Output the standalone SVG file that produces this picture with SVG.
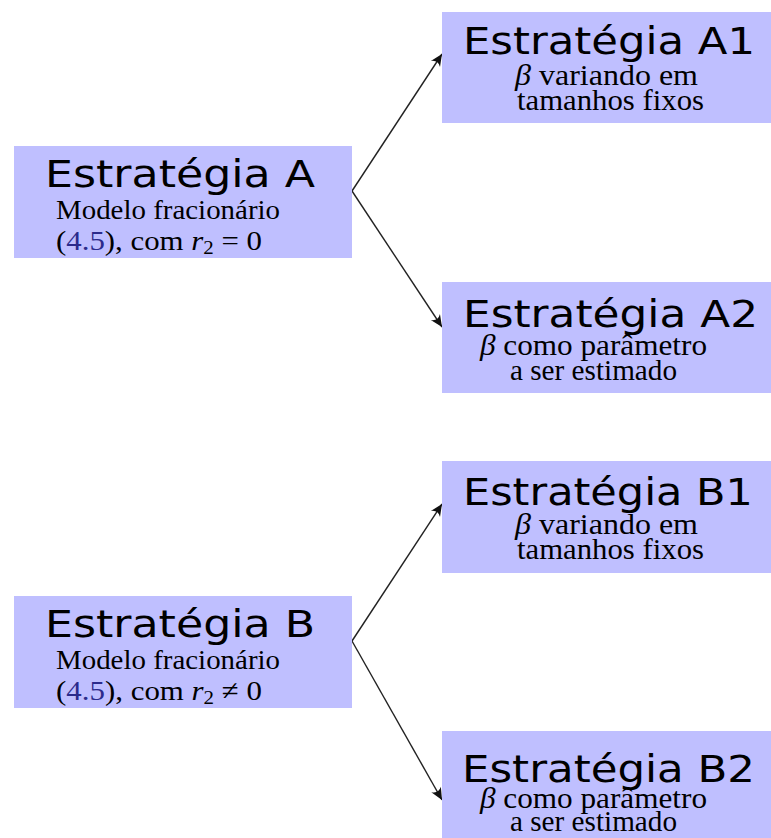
<svg xmlns="http://www.w3.org/2000/svg" width="771" height="838" viewBox="0 0 771 838">
<defs>
<style>
.box{fill:#bfbfff;stroke:none}
.t{font-family:"DejaVu Sans",sans-serif;font-size:37px;fill:#000}
.s{font-family:"Liberation Serif","Times New Roman",serif;font-size:28px;fill:#000}
.r{font-size:29px}
.m{font-style:italic}
.lk{fill:#2b2b8c}
.sub{font-size:19px}
.c{fill:none;stroke:#222;stroke-width:1.4}
</style>
<marker id="ah" markerWidth="16" markerHeight="12" viewBox="-13 -6 15 12" refX="0" refY="0" orient="auto" markerUnits="userSpaceOnUse">
<path d="M0,0 L-12,-5.5 Q-7,0 -12,5.5 Z" fill="#111"/>
</marker>
</defs>
<rect width="771" height="838" fill="#fff"/>
<g id="connectors">
<line class="c" x1="352" y1="191" x2="442" y2="54" marker-end="url(#ah)"/>
<line class="c" x1="352" y1="191" x2="442" y2="327" marker-end="url(#ah)"/>
<line class="c" x1="352" y1="641" x2="442" y2="504" marker-end="url(#ah)"/>
<line class="c" x1="352" y1="641" x2="442" y2="800" marker-end="url(#ah)"/>
</g>
<g id="nodeA">
<rect class="box" x="14" y="146" width="338" height="112"/>
<text class="t" x="45" y="186.5" textLength="270" lengthAdjust="spacingAndGlyphs">Estratégia A</text>
<text class="s" x="56" y="219" textLength="224" lengthAdjust="spacingAndGlyphs">Modelo fracionário</text>
<text class="s" x="56" y="250" textLength="206" lengthAdjust="spacingAndGlyphs">(<tspan class="lk">4.5</tspan>), com <tspan class="m">r</tspan><tspan class="sub" dy="4">2</tspan><tspan dy="-4"> = 0</tspan></text>
</g>
<g id="nodeA1">
<rect class="box" x="442" y="12" width="329" height="111"/>
<text class="t" x="463" y="54" textLength="292" lengthAdjust="spacingAndGlyphs">Estratégia A1</text>
<text class="s r" x="515" y="85" textLength="183" lengthAdjust="spacingAndGlyphs"><tspan class="m">β</tspan> variando em</text>
<text class="s r" x="517" y="110" textLength="187" lengthAdjust="spacingAndGlyphs">tamanhos fixos</text>
</g>
<g id="nodeA2">
<rect class="box" x="442" y="282" width="329" height="111"/>
<text class="t" x="463" y="327" textLength="295" lengthAdjust="spacingAndGlyphs">Estratégia A2</text>
<text class="s r" x="480" y="355" textLength="227" lengthAdjust="spacingAndGlyphs"><tspan class="m">β</tspan> como parâmetro</text>
<text class="s r" x="510" y="380" textLength="167" lengthAdjust="spacingAndGlyphs">a ser estimado</text>
</g>
<g id="nodeB">
<rect class="box" x="14" y="596" width="338" height="112"/>
<text class="t" x="45" y="636.5" textLength="270" lengthAdjust="spacingAndGlyphs">Estratégia B</text>
<text class="s" x="56" y="669" textLength="224" lengthAdjust="spacingAndGlyphs">Modelo fracionário</text>
<text class="s" x="56" y="700" textLength="206" lengthAdjust="spacingAndGlyphs">(<tspan class="lk">4.5</tspan>), com <tspan class="m">r</tspan><tspan class="sub" dy="4">2</tspan><tspan dy="-4"> ≠ 0</tspan></text>
</g>
<g id="nodeB1">
<rect class="box" x="442" y="461" width="329" height="112"/>
<text class="t" x="463" y="505" textLength="290" lengthAdjust="spacingAndGlyphs">Estratégia B1</text>
<text class="s r" x="515" y="534" textLength="183" lengthAdjust="spacingAndGlyphs"><tspan class="m">β</tspan> variando em</text>
<text class="s r" x="517" y="559" textLength="187" lengthAdjust="spacingAndGlyphs">tamanhos fixos</text>
</g>
<g id="nodeB2">
<rect class="box" x="442" y="731" width="329" height="107"/>
<text class="t" x="462" y="781.5" textLength="293" lengthAdjust="spacingAndGlyphs">Estratégia B2</text>
<text class="s r" x="480" y="808" textLength="227" lengthAdjust="spacingAndGlyphs"><tspan class="m">β</tspan> como parâmetro</text>
<text class="s r" x="510" y="831" textLength="167" lengthAdjust="spacingAndGlyphs">a ser estimado</text>
</g>
</svg>
